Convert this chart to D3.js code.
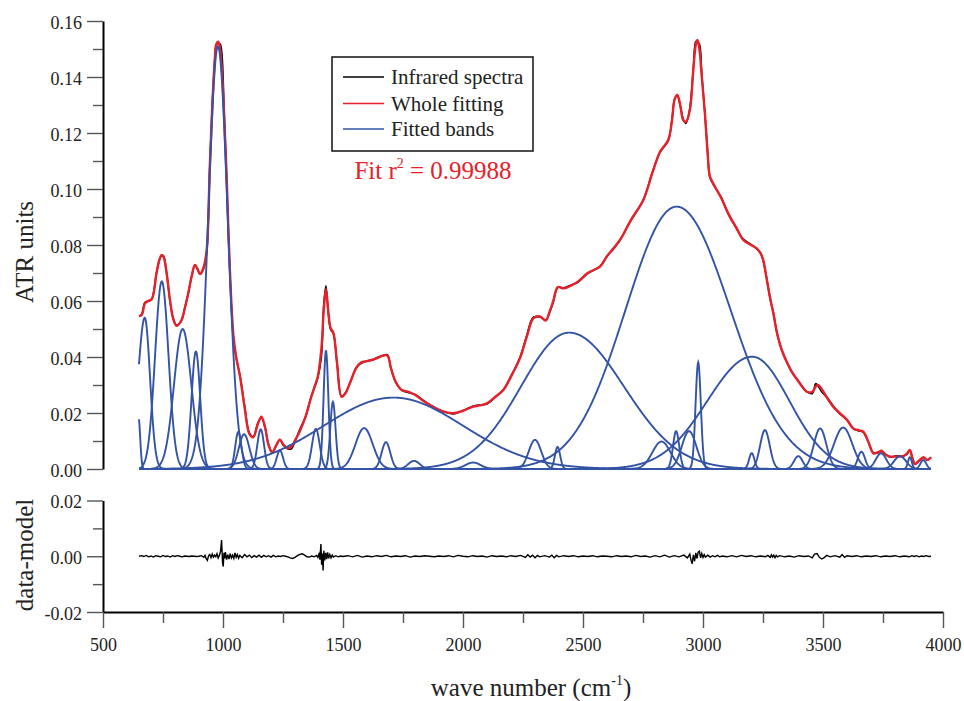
<!DOCTYPE html>
<html>
<head>
<meta charset="utf-8">
<script src="https://cdn.jsdelivr.net/npm/d3@7"></script>
<style>
  body { margin: 0; background: #fff; }
  svg text { font-family: "Liberation Serif", "Times New Roman", serif !important; fill: #222; }
</style>
</head>
<body>
<div id="chart"></div>
<script>
// ---- data ----

// tick values
var xTicks = [500, 1000, 1500, 2000, 2500, 3000, 3500, 4000];
var xMinor = [750, 1250, 1750, 2250, 2750, 3250, 3750];
var topTicks = [0, 0.02, 0.04, 0.06, 0.08, 0.10, 0.12, 0.14, 0.16];
var topMinor = [0.01, 0.03, 0.05, 0.07, 0.09, 0.11, 0.13, 0.15];
var botTicks = [-0.02, 0, 0.02];
var botMinor = [-0.01, 0.01];

// fitted bands: centre (cm-1), height, half width left / right (cm-1)
var bandCenter = [648, 674, 745, 832, 887, 979, 1064, 1088, 1157, 1237, 1387, 1429, 1458, 1588, 1679, 1710, 1796, 2042, 2300, 2394, 2442, 2827, 2888, 2890, 2942, 2980, 3203, 3205, 3258, 3397, 3488, 3584, 3660, 3742, 3821, 3862, 3918];
var bandHeight = [0.0185, 0.054, 0.067, 0.050, 0.042, 0.151, 0.0133, 0.0124, 0.0142, 0.0067, 0.0143, 0.0423, 0.024, 0.0146, 0.0096, 0.0255, 0.0029, 0.0023, 0.0104, 0.0079, 0.0487, 0.0098, 0.0135, 0.0937, 0.0135, 0.0381, 0.0057, 0.0401, 0.0139, 0.0046, 0.0145, 0.0148, 0.0062, 0.0056, 0.0046, 0.0042, 0.0032];
var bandSigmaL = [7, 28, 28, 36, 18, 40, 13, 22, 14, 13, 16, 10, 11, 36, 18, 290, 24, 32, 26, 11, 200, 38, 13, 213, 30, 11, 11, 187, 20, 18, 26, 38, 15, 22, 25, 8, 12];
var bandSigmaR = [7, 22, 28, 36, 18, 40, 13, 22, 14, 13, 16, 10, 11, 36, 18, 290, 24, 32, 26, 11, 228, 38, 13, 225, 30, 11, 11, 155, 20, 18, 26, 38, 15, 22, 25, 8, 12];

// whole fitting (wave number, ATR units)
var fitPoints = [
  [650,0.0546],[661,0.0550],[675,0.0592],[689,0.0601],[703,0.0606],[723,0.0699],[735,0.0748],[744,0.0764],
  [752,0.0758],[765,0.0700],[779,0.0604],[793,0.0535],[807,0.0511],[827,0.0532],[841,0.0575],[855,0.0627],
  [870,0.0690],[883,0.0729],[894,0.0714],[904,0.0696],[918,0.0717],[932,0.0782],[945,0.108],[955,0.129],
  [965,0.145],[972,0.1517],[980,0.1526],[988,0.1500],[995,0.143],[1005,0.126],[1015,0.105],[1027,0.0746],
  [1043,0.048],[1055,0.040],[1071,0.033],[1090,0.022],[1110,0.0125],[1126,0.0113],[1145,0.0160],[1160,0.0187],
  [1175,0.0150],[1190,0.0085],[1205,0.0058],[1222,0.0085],[1237,0.0105],[1252,0.0085],[1270,0.0074],[1285,0.0080],
  [1300,0.0102],[1320,0.0135],[1345,0.0190],[1365,0.0250],[1380,0.0290],[1395,0.0330],[1410,0.0430],[1420,0.0570],
  [1429,0.0642],[1438,0.0570],[1448,0.0505],[1460,0.0486],[1475,0.0380],[1494,0.0258],[1510,0.0270],[1530,0.0310],
  [1555,0.0360],[1575,0.0380],[1600,0.0385],[1620,0.0390],[1640,0.0395],[1665,0.0405],[1685,0.0405],[1700,0.0360],
  [1720,0.0310],[1745,0.0282],[1770,0.0276],[1800,0.0265],[1840,0.0240],[1875,0.0223],[1920,0.0205],[1960,0.0199],
  [2000,0.0208],[2043,0.0223],[2075,0.0228],[2100,0.0235],[2135,0.0258],[2168,0.0282],[2200,0.0330],[2237,0.0395],
  [2265,0.0470],[2293,0.0538],[2320,0.0545],[2345,0.0530],[2360,0.0560],[2376,0.0600],[2395,0.0650],[2420,0.0645],
  [2450,0.0655],[2480,0.0670],[2520,0.0700],[2571,0.0723],[2600,0.0760],[2627,0.0788],[2654,0.0818],[2700,0.0890],
  [2751,0.0960],[2790,0.1060],[2821,0.1133],[2855,0.1175],[2870,0.1240],[2882,0.1320],[2893,0.1336],[2905,0.1300],
  [2918,0.1245],[2929,0.1240],[2945,0.1280],[2960,0.1430],[2970,0.1515],[2977,0.1532],[2985,0.1500],[2995,0.1400],
  [3008,0.1270],[3020,0.1120],[3029,0.1044],[3050,0.1008],[3075,0.0970],[3105,0.0913],[3140,0.0860],[3168,0.0818],
  [3200,0.0800],[3224,0.0788],[3240,0.0770],[3251,0.0746],[3265,0.0680],[3280,0.0610],[3293,0.0556],[3310,0.0480],
  [3328,0.0425],[3350,0.0380],[3370,0.0348],[3400,0.0310],[3432,0.0276],[3455,0.0275],[3470,0.0295],[3480,0.0300],
  [3495,0.0285],[3520,0.0250],[3545,0.0220],[3571,0.0199],[3600,0.0175],[3626,0.0145],[3650,0.0138],[3668,0.0133],
  [3690,0.0095],[3710,0.0056],[3730,0.0060],[3744,0.0065],[3760,0.0052],[3779,0.0044],[3805,0.0045],[3835,0.0046],
  [3850,0.0055],[3862,0.0068],[3872,0.0040],[3883,0.0018],[3900,0.0030],[3918,0.0042],[3935,0.0032],[3950,0.0042]
];

// data - model, in units of 1e-4
var residual1e4 = [
  [650,0],[660,2],[670,-1],[680,3],[690,-2],[700,1],[710,-3],[720,2],[730,0],[740,-2],[750,3],[760,-1],[770,1],
  [780,-3],[790,2],[800,-1],[810,2],[820,0],[830,-2],[840,1],[850,0],[860,-1],[870,1],[880,0],[890,-1],[900,0],
  [910,2],[920,-4],[925,3],[930,-9],[935,-15],[940,2],[945,6],[950,-5],[955,8],[960,-3],[965,4],[970,-2],[975,9],
  [980,-6],[985,3],[990,18],[994,58],[998,-20],[1001,-37],[1004,12],[1007,-8],[1010,15],[1015,-12],[1020,6],
  [1025,-10],[1030,9],[1035,-6],[1040,4],[1045,-8],[1050,12],[1055,-4],[1060,6],[1065,-7],[1070,3],[1080,-5],
  [1090,6],[1100,-2],[1110,4],[1120,-5],[1130,2],[1140,-3],[1150,4],[1160,-4],[1170,3],[1180,-2],[1190,2],
  [1200,-3],[1210,3],[1220,-2],[1230,1],[1240,-1],[1250,2],[1260,0],[1270,-2],[1280,-6],[1290,-8],[1300,-4],
  [1310,2],[1320,7],[1330,9],[1340,4],[1350,-2],[1360,-3],[1370,1],[1380,-2],[1390,3],[1395,-4],[1400,8],
  [1404,-12],[1408,44],[1411,-30],[1414,10],[1417,-51],[1420,20],[1424,-15],[1428,12],[1432,-10],[1436,14],
  [1440,-8],[1445,6],[1450,-6],[1455,4],[1460,-3],[1470,2],[1480,-2],[1490,1],[1500,-1],[1520,2],[1540,-2],
  [1560,3],[1580,-3],[1600,1],[1620,-2],[1640,2],[1660,-1],[1680,3],[1700,-2],[1720,1],[1740,-1],[1760,2],
  [1780,-3],[1800,1],[1820,-1],[1840,2],[1860,0],[1880,-2],[1900,1],[1920,-1],[1940,2],[1960,-2],[1980,3],
  [2000,0],[2020,-2],[2040,2],[2060,-1],[2080,1],[2100,-3],[2120,2],[2140,-1],[2160,1],[2180,-2],[2200,2],
  [2220,-1],[2240,3],[2260,-4],[2270,5],[2280,-3],[2290,4],[2300,-5],[2310,3],[2320,-2],[2340,2],[2360,-3],
  [2370,4],[2380,-5],[2390,3],[2400,-2],[2420,2],[2440,-1],[2460,2],[2480,-2],[2500,1],[2520,-1],[2540,2],
  [2560,-2],[2580,1],[2600,0],[2620,-2],[2640,2],[2660,-1],[2680,1],[2700,-2],[2720,3],[2740,-1],[2760,1],
  [2780,-3],[2800,2],[2820,-2],[2840,4],[2860,-3],[2880,2],[2900,-2],[2920,4],[2935,-6],[2945,8],[2950,-14],
  [2955,-27],[2960,5],[2965,-18],[2970,12],[2975,-8],[2980,15],[2985,18],[2990,-6],[2995,10],[3000,-4],
  [3005,6],[3010,-3],[3020,4],[3030,-3],[3040,2],[3050,-2],[3060,3],[3070,-2],[3080,1],[3100,-2],[3120,2],
  [3140,-2],[3160,3],[3180,-1],[3200,2],[3220,-2],[3240,1],[3260,-2],[3270,3],[3280,-4],[3285,5],[3290,-3],
  [3295,4],[3300,-5],[3305,3],[3310,-2],[3320,2],[3340,-2],[3360,1],[3380,-3],[3400,2],[3420,-1],[3440,1],
  [3455,-6],[3465,8],[3475,10],[3485,-4],[3495,-10],[3505,-5],[3515,3],[3530,-2],[3550,2],[3570,-3],[3580,6],
  [3590,-4],[3600,2],[3620,-1],[3640,2],[3660,-2],[3680,1],[3700,-1],[3720,2],[3740,-2],[3760,1],[3780,-1],
  [3800,2],[3820,-2],[3840,1],[3860,-2],[3870,2],[3880,-1],[3890,2],[3900,-2],[3910,1],[3920,-1],[3930,2],
  [3940,-1],[3950,0]
];

var legendLabels = ["Infrared spectra", "Whole fitting", "Fitted bands"];

// ---- setup ----
var width = 964;
var height = 701;
var red = "#e8202a";
var blue = "#3353a4";
var serif = "'Liberation Serif', 'Times New Roman', serif";

var svg = d3.select("#chart")
    .append("svg")
    .attr("width", width)
    .attr("height", height)
    .style("font-family", serif);

var x = d3.scaleLinear().domain([500, 4000]).range([103, 943]);
var yTop = d3.scaleLinear().domain([0, 0.16]).range([469, 21]);
var yBot = d3.scaleLinear().domain([-0.02, 0.02]).range([612, 500.5]);

function styleAxis(g, size) {
    g.attr("font-family", null);
    g.select(".domain").attr("stroke", "#000").attr("stroke-width", 2);
    g.selectAll(".tick line").attr("stroke", "#555").attr("stroke-width", 1.4);
    g.selectAll(".tick text")
        .attr("font-size", size)
        .style("font-family", serif)
        .attr("fill", "#222");
}

function fmt(d) { return d.toFixed(2); }

// top panel y axis
var gTop = svg.append("g").attr("transform", "translate(103,0)")
    .call(d3.axisLeft(yTop).tickValues(topTicks).tickSize(16).tickSizeOuter(0).tickPadding(5).tickFormat(fmt));
styleAxis(gTop, 18);
gTop.selectAll(".tick text").attr("dy", "0.4em");
var gTopMinor = svg.append("g").attr("transform", "translate(103,0)")
    .call(d3.axisLeft(yTop).tickValues(topMinor).tickSize(10).tickFormat(""));
gTopMinor.select(".domain").remove();
gTopMinor.selectAll(".tick line").attr("stroke", "#555").attr("stroke-width", 1.4);

// bottom panel y axis
var gBot = svg.append("g").attr("transform", "translate(103,0)")
    .call(d3.axisLeft(yBot).tickValues(botTicks).tickSize(16).tickSizeOuter(0).tickPadding(5).tickFormat(fmt));
styleAxis(gBot, 18);
gBot.selectAll(".tick text").attr("dy", "0.4em");
var gBotMinor = svg.append("g").attr("transform", "translate(103,0)")
    .call(d3.axisLeft(yBot).tickValues(botMinor).tickSize(10).tickFormat(""));
gBotMinor.select(".domain").remove();
gBotMinor.selectAll(".tick line").attr("stroke", "#555").attr("stroke-width", 1.4);

// x axis
var gX = svg.append("g").attr("transform", "translate(0,612)")
    .call(d3.axisBottom(x).tickValues(xTicks).tickSize(16).tickSizeOuter(0).tickPadding(10).tickFormat(d3.format("d")));
styleAxis(gX, 18);
var gXMinor = svg.append("g").attr("transform", "translate(0,612)")
    .call(d3.axisBottom(x).tickValues(xMinor).tickSize(11).tickFormat(""));
gXMinor.select(".domain").remove();
gXMinor.selectAll(".tick line").attr("stroke", "#555").attr("stroke-width", 1.4);

// ---- curves ----
var lineTop = d3.line()
    .x(function(d) { return x(d[0]); })
    .y(function(d) { return yTop(d[1]); })
    .curve(d3.curveCatmullRom.alpha(0.5));

var bandLine = d3.line()
    .x(function(d) { return x(d[0]); })
    .y(function(d) { return yTop(d[1]); });

function bandCurve(i) {
    var c = bandCenter[i];
    return d3.range(650, 3952, 2).map(function(w) {
        var s = w < c ? bandSigmaL[i] : bandSigmaR[i];
        return [w, bandHeight[i] * Math.exp(-0.5 * Math.pow((w - c) / s, 2))];
    });
}

// measured spectrum = model + residual
var bis = d3.bisector(function(d) { return d[0]; }).center;
var spectrum = fitPoints.map(function(p) {
    var r = residual1e4[bis(residual1e4, p[0])];
    return [p[0], p[1] + r[1] * 1e-4];
});

svg.append("path")
    .datum(spectrum)
    .attr("d", lineTop)
    .attr("fill", "none")
    .attr("stroke", "#000")
    .attr("stroke-width", 1.6);

svg.append("path")
    .datum(fitPoints)
    .attr("d", lineTop)
    .attr("fill", "none")
    .attr("stroke", red)
    .attr("stroke-width", 2.4);

svg.append("g").selectAll("path")
    .data(d3.range(bandCenter.length))
    .enter()
    .append("path")
    .attr("d", function(i) { return bandLine(bandCurve(i)); })
    .attr("fill", "none")
    .attr("stroke", blue)
    .attr("stroke-width", 1.9);

// residual panel
svg.append("path")
    .datum(residual1e4)
    .attr("d", d3.line()
        .x(function(d) { return x(d[0]); })
        .y(function(d) { return yBot(d[1] * 1e-4); }))
    .attr("fill", "none")
    .attr("stroke", "#000")
    .attr("stroke-width", 1.4);

// ---- texts ----
svg.append("text")
    .attr("transform", "translate(33,252) rotate(-90)")
    .attr("text-anchor", "middle")
    .attr("font-size", 25)
    .text("ATR units");

svg.append("text")
    .attr("transform", "translate(33,555) rotate(-90)")
    .attr("text-anchor", "middle")
    .attr("font-size", 25)
    .text("data-model");

var xTitle = svg.append("text")
    .attr("x", 531)
    .attr("y", 696)
    .attr("text-anchor", "middle")
    .attr("font-size", 25);
xTitle.append("tspan").text("wave number (cm");
xTitle.append("tspan").attr("font-size", 14).attr("dy", -11).text("-1");
xTitle.append("tspan").attr("dy", 11).text(")");

var fitText = svg.append("text")
    .attr("x", 433)
    .attr("y", 179)
    .attr("text-anchor", "middle")
    .attr("font-size", 25)
    .style("fill", red);
fitText.append("tspan").text("Fit r");
fitText.append("tspan").attr("font-size", 14).attr("dy", -11).text("2");
fitText.append("tspan").attr("dy", 11).text(" = 0.99988");

// legend
var legend = svg.append("g");
legend.append("rect")
    .attr("x", 332)
    .attr("y", 57)
    .attr("width", 201)
    .attr("height", 94)
    .attr("fill", "#fff")
    .attr("stroke", "#111")
    .attr("stroke-width", 1.5);

var legendColors = ["#000", red, blue];
var legendY = [77, 103.5, 129];
legendLabels.forEach(function(label, i) {
    legend.append("line")
        .attr("x1", 343).attr("x2", 384)
        .attr("y1", legendY[i]).attr("y2", legendY[i])
        .attr("stroke", legendColors[i])
        .attr("stroke-width", 1.6);
    legend.append("text")
        .attr("x", 391)
        .attr("y", legendY[i] + 7)
        .attr("font-size", 21)
        .text(label);
});
</script>
</body>
</html>
